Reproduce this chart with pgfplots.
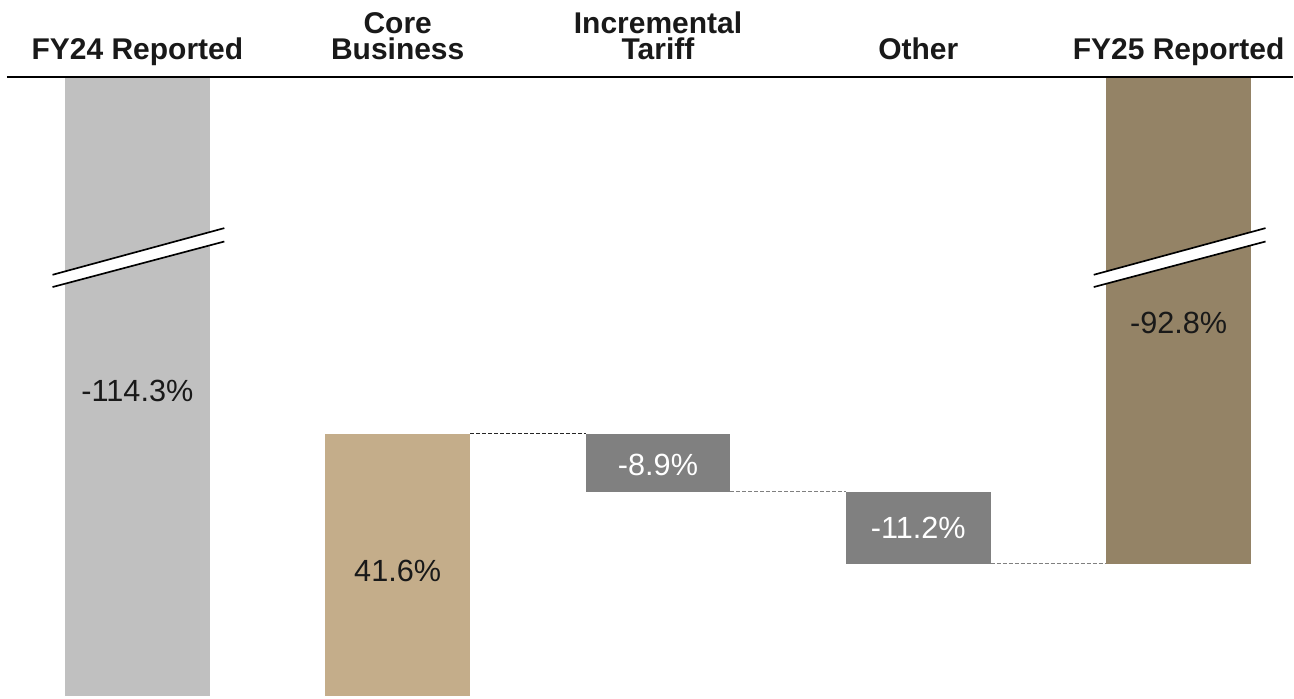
\documentclass[border=0pt]{standalone}
\usepackage{pgfplots}
\pgfplotsset{compat=1.18}
\usepackage{fontspec}
\setmainfont{Liberation Sans}
\definecolor{cFY}{HTML}{C0C0C0}
\definecolor{cCore}{HTML}{C4AD8A}
\definecolor{cNeg}{HTML}{808080}
\definecolor{cFYb}{HTML}{948366}
\begin{document}
\begin{tikzpicture}
\begin{axis}[
  scale only axis, width=388.2pt, height=209.7pt,
  xmin=-0.5278, xmax=4.4395, ymin=-0.316, ymax=110.28,
  axis lines=none, clip=false,
]
\path (rel axis cs:0,0) rectangle (rel axis cs:1,1);
% bars
\addplot[fill=cFY, draw=none] coordinates {(-0.278,0) (0.278,0) (0.278,97.94) (-0.278,97.94)};
\addplot[fill=cCore, draw=none] coordinates {(0.722,0) (1.278,0) (1.278,41.61) (0.722,41.61)};
\addplot[fill=cNeg, draw=none] coordinates {(1.722,41.61) (2.278,41.61) (2.278,32.44) (1.722,32.44)};
\addplot[fill=cNeg, draw=none] coordinates {(2.722,32.44) (3.278,32.44) (3.278,21.04) (2.722,21.04)};
\addplot[fill=cFYb, draw=none] coordinates {(3.722,21.04) (4.278,21.04) (4.278,97.94) (3.722,97.94)};
% connectors
\addplot[black!85, line width=0.3pt, dash pattern=on 1.2pt off 0.6pt] coordinates {(1.278,41.61) (1.722,41.61)};
\addplot[gray, line width=0.3pt, dash pattern=on 1.2pt off 0.6pt] coordinates {(2.278,32.44) (2.722,32.44)};
\addplot[gray, line width=0.3pt, dash pattern=on 1.2pt off 0.6pt] coordinates {(3.278,21.04) (3.722,21.04)};
% top rule
\addplot[black, line width=0.6pt] coordinates {(-0.501,98.1) (4.4395,98.1)};
% break marks
\fill[white] (axis cs:-0.326,66.77) -- (axis cs:0.334,74.16) -- (axis cs:0.334,72.04) -- (axis cs:-0.326,64.83) -- cycle;
\draw[black, line width=0.5pt] (axis cs:-0.326,66.77) -- (axis cs:0.334,74.16);
\draw[black, line width=0.5pt] (axis cs:-0.326,64.83) -- (axis cs:0.334,72.04);
\fill[white] (axis cs:3.674,66.77) -- (axis cs:4.334,74.16) -- (axis cs:4.334,72.04) -- (axis cs:3.674,64.83) -- cycle;
\draw[black, line width=0.5pt] (axis cs:3.674,66.77) -- (axis cs:4.334,74.16);
\draw[black, line width=0.5pt] (axis cs:3.674,64.83) -- (axis cs:4.334,72.04);
% category headers
\node[anchor=base, inner sep=0pt, font=\fontsize{9}{9}\selectfont\bfseries, text=black!90] at (axis cs:0,100.79) {FY24 Reported};
\node[anchor=base, inner sep=0pt, font=\fontsize{9}{9}\selectfont\bfseries, text=black!90] at (axis cs:1,104.9) {Core};
\node[anchor=base, inner sep=0pt, font=\fontsize{9}{9}\selectfont\bfseries, text=black!90] at (axis cs:1,100.79) {Business};
\node[anchor=base, inner sep=0pt, font=\fontsize{9}{9}\selectfont\bfseries, text=black!90] at (axis cs:2,104.9) {Incremental};
\node[anchor=base, inner sep=0pt, font=\fontsize{9}{9}\selectfont\bfseries, text=black!90] at (axis cs:2,100.79) {Tariff};
\node[anchor=base, inner sep=0pt, font=\fontsize{9}{9}\selectfont\bfseries, text=black!90] at (axis cs:3,100.79) {Other};
\node[anchor=base, inner sep=0pt, font=\fontsize{9}{9}\selectfont\bfseries, text=black!90] at (axis cs:4,100.79) {FY25 Reported};
% data labels
\node[anchor=center, inner sep=0pt, font=\fontsize{9.2}{9}\selectfont, text=black!90] at (axis cs:0,48.4) {-114.3\%};
\node[anchor=center, inner sep=0pt, font=\fontsize{9.2}{9}\selectfont, text=black!90] at (axis cs:1,19.8) {41.6\%};
\node[anchor=center, inner sep=0pt, font=\fontsize{9.2}{9}\selectfont, text=white] at (axis cs:2,36.7) {-8.9\%};
\node[anchor=center, inner sep=0pt, font=\fontsize{9.2}{9}\selectfont, text=white] at (axis cs:3,26.7) {-11.2\%};
\node[anchor=center, inner sep=0pt, font=\fontsize{9.2}{9}\selectfont, text=black!90] at (axis cs:4,59.2) {-92.8\%};
\end{axis}
\end{tikzpicture}
\end{document}
